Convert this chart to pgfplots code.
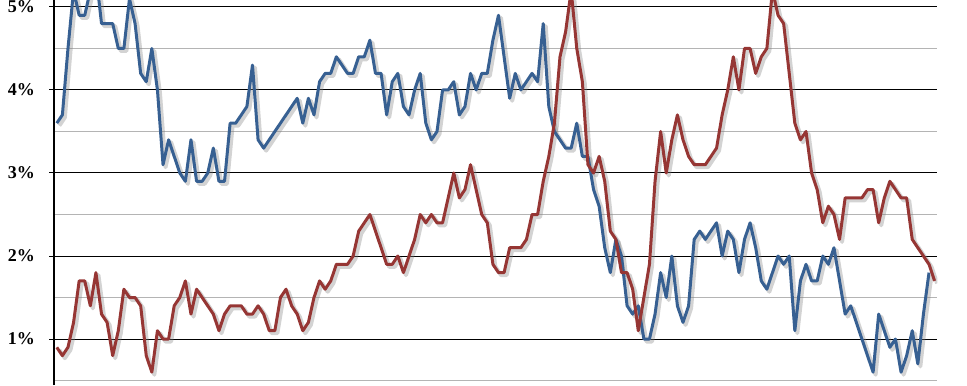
\documentclass[border=0pt]{standalone}
\usepackage{pgfplots}
\pgfplotsset{compat=1.18}
\usepackage{pgfplotstable}
\usepackage{fontspec}
\setmainfont{Liberation Serif}
\definecolor{blueS}{HTML}{376092}
\definecolor{redS}{HTML}{963634}
\definecolor{gridminor}{HTML}{B4B4B4}

\pgfplotstableread{
i v
0 3.6
1 3.7
2 4.5
3 5.2
4 4.9
5 4.9
6 5.2
7 5.4
8 4.8
9 4.8
10 4.8
11 4.5
12 4.5
13 5.1
14 4.8
15 4.2
16 4.1
17 4.5
18 4.0
19 3.1
20 3.4
21 3.2
22 3.0
23 2.9
24 3.4
25 2.9
26 2.9
27 3.0
28 3.3
29 2.9
30 2.9
31 3.6
32 3.6
33 3.7
34 3.8
35 4.3
36 3.4
37 3.3
38 3.4
39 3.5
40 3.6
41 3.7
42 3.8
43 3.9
44 3.6
45 3.9
46 3.7
47 4.1
48 4.2
49 4.2
50 4.4
51 4.3
52 4.2
53 4.2
54 4.4
55 4.4
56 4.6
57 4.2
58 4.2
59 3.7
60 4.1
61 4.2
62 3.8
63 3.7
64 4.0
65 4.2
66 3.6
67 3.4
68 3.5
69 4.0
70 4.0
71 4.1
72 3.7
73 3.8
74 4.2
75 4.0
76 4.2
77 4.2
78 4.6
79 4.9
80 4.4
81 3.9
82 4.2
83 4.0
84 4.1
85 4.2
86 4.1
87 4.8
88 3.8
89 3.5
90 3.4
91 3.3
92 3.3
93 3.6
94 3.2
95 3.2
96 2.8
97 2.6
98 2.1
99 1.8
100 2.2
101 2.0
102 1.4
103 1.3
104 1.4
105 1.0
106 1.0
107 1.3
108 1.8
109 1.5
110 2.0
111 1.4
112 1.2
113 1.4
114 2.2
115 2.3
116 2.2
117 2.3
118 2.4
119 2.0
120 2.3
121 2.2
122 1.8
123 2.2
124 2.4
125 2.1
126 1.7
127 1.6
128 1.8
129 2.0
130 1.9
131 2.0
132 1.1
133 1.7
134 1.9
135 1.7
136 1.7
137 2.0
138 1.9
139 2.1
140 1.7
141 1.3
142 1.4
143 1.2
144 1.0
145 0.8
146 0.6
147 1.3
148 1.1
149 0.9
150 1.0
151 0.6
152 0.8
153 1.1
154 0.7
155 1.3
156 1.8
}\blueseries

\pgfplotstableread{
i v
0 0.9
1 0.8
2 0.9
3 1.2
4 1.7
5 1.7
6 1.4
7 1.8
8 1.3
9 1.2
10 0.8
11 1.1
12 1.6
13 1.5
14 1.5
15 1.4
16 0.8
17 0.6
18 1.1
19 1.0
20 1.0
21 1.4
22 1.5
23 1.7
24 1.3
25 1.6
26 1.5
27 1.4
28 1.3
29 1.1
30 1.3
31 1.4
32 1.4
33 1.4
34 1.3
35 1.3
36 1.4
37 1.3
38 1.1
39 1.1
40 1.5
41 1.6
42 1.4
43 1.3
44 1.1
45 1.2
46 1.5
47 1.7
48 1.6
49 1.7
50 1.9
51 1.9
52 1.9
53 2.0
54 2.3
55 2.4
56 2.5
57 2.3
58 2.1
59 1.9
60 1.9
61 2.0
62 1.8
63 2.0
64 2.2
65 2.5
66 2.4
67 2.5
68 2.4
69 2.4
70 2.7
71 3.0
72 2.7
73 2.8
74 3.1
75 2.8
76 2.5
77 2.4
78 1.9
79 1.8
80 1.8
81 2.1
82 2.1
83 2.1
84 2.2
85 2.5
86 2.5
87 2.9
88 3.2
89 3.6
90 4.4
91 4.7
92 5.2
93 4.5
94 4.1
95 3.1
96 3.0
97 3.2
98 2.9
99 2.3
100 2.2
101 1.8
102 1.8
103 1.6
104 1.1
105 1.5
106 1.9
107 2.9
108 3.5
109 3.0
110 3.4
111 3.7
112 3.4
113 3.2
114 3.1
115 3.1
116 3.1
117 3.2
118 3.3
119 3.7
120 4.0
121 4.4
122 4.0
123 4.5
124 4.5
125 4.2
126 4.4
127 4.5
128 5.2
129 4.9
130 4.8
131 4.2
132 3.6
133 3.4
134 3.5
135 3.0
136 2.8
137 2.4
138 2.6
139 2.5
140 2.2
141 2.7
142 2.7
143 2.7
144 2.7
145 2.8
146 2.8
147 2.4
148 2.7
149 2.9
150 2.8
151 2.7
152 2.7
153 2.2
154 2.1
155 2.0
156 1.9
157 1.7
}\redseries

\begin{document}
\begin{tikzpicture}
\begin{axis}[
  name=ax,
  scale only axis,
  width=883.4pt, height=385pt,
  xmin=-0.5, xmax=157.5,
  ymin=0.446, ymax=5.084,
  axis x line=none,
  axis y line=left,
  axis line style={-, black, line width=1.3pt},
  xtick=\empty,
  ytick={1,2,3,4,5},
  yticklabels={1\%,2\%,3\%,4\%,5\%},
  minor ytick={0.5,1.5,2.5,3.5,4.5},
  ymajorgrids, yminorgrids,
  major grid style={black, line width=1pt},
  minor grid style={gridminor, line width=1pt},
  tick align=outside,
  major tick length=5pt,
  minor tick length=0pt,
  tick style={black, line width=1pt},
  yticklabel style={font=\fontsize{18}{18}\bfseries\selectfont, inner sep=0pt, xshift=-14pt},
  clip=true,
]
\addplot[gray, opacity=0.35, line width=4pt, line join=round, xshift=2.5pt, yshift=-2.5pt] table[x=i, y=v] {\blueseries};
\addplot[gray, opacity=0.35, line width=4pt, line join=round, xshift=2.5pt, yshift=-2.5pt] table[x=i, y=v] {\redseries};
\addplot[blueS, line width=3pt, line join=round] table[x=i, y=v] {\blueseries};
\addplot[redS, line width=3pt, line join=round] table[x=i, y=v] {\redseries};
\end{axis}
\pgfresetboundingbox
\path[use as bounding box] ([xshift=-54pt]ax.south west) rectangle ([xshift=29.6pt]ax.north east);
\end{tikzpicture}
\end{document}
